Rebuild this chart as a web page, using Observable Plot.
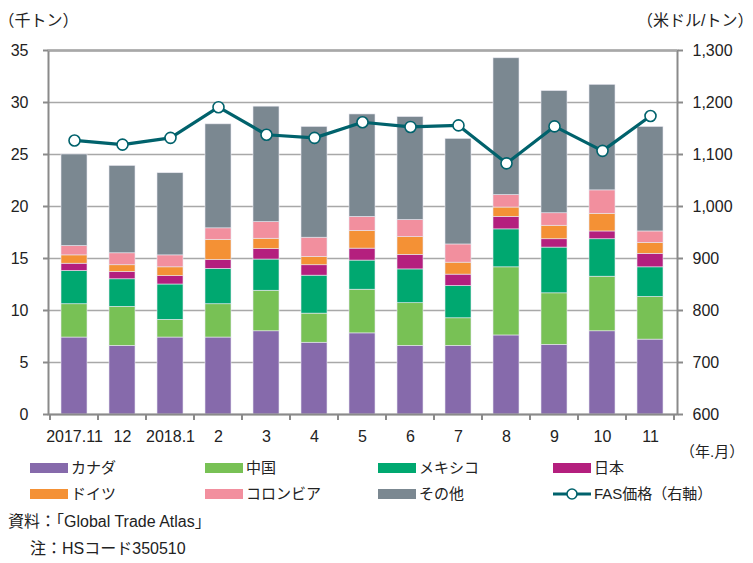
<!DOCTYPE html>
<html><head><meta charset="utf-8">
<script src="https://cdn.jsdelivr.net/npm/d3@7"></script>
<script src="https://cdn.jsdelivr.net/npm/@observablehq/plot@0.6"></script>
<style>
body{margin:0;background:#fff;font-family:"Liberation Sans","Noto Sans CJK JP",sans-serif;color:#222;}
#wrap{position:relative;width:753px;height:563px;}
.abs{position:absolute;white-space:nowrap;font-size:15px;line-height:18px;}
.sw{position:absolute;width:38px;height:10px;}
</style></head>
<body><div id="wrap"></div>
<script>
const months = ["2017.11","12","2018.1","2","3","4","5","6","7","8","9","10","11"];
const seriesNames = ["カナダ","中国","メキシコ","日本","ドイツ","コロンビア","その他"];
const colors = ["#866aab","#78c155","#00a870","#b41f7e","#f49135","#f28f9e","#7b8891"];
const canada   = [7.4,6.6,7.4,7.4,8.0,6.9,7.8,6.6,6.6,7.6,6.7,8.0,7.2];
const china    = [3.2,3.75,1.7,3.2,3.9,2.8,4.2,4.1,2.65,6.55,4.95,5.25,4.1];
const mexico   = [3.2,2.65,3.4,3.4,3.0,3.65,2.8,3.25,3.1,3.65,4.4,3.6,2.85];
const japan    = [0.7,0.7,0.8,0.85,1.0,1.0,1.15,1.4,1.1,1.2,0.8,0.75,1.3];
const germany  = [0.8,0.65,0.85,1.95,1.0,0.8,1.7,1.7,1.15,0.9,1.3,1.7,1.05];
const colombia = [0.9,1.15,1.15,1.1,1.6,1.85,1.35,1.65,1.75,1.2,1.2,2.25,1.1];
const others   = [8.8,8.4,7.9,10.0,11.1,10.65,9.85,9.9,10.15,13.15,11.75,10.15,10.05];
const fas      = [1127,1119,1132,1191,1138,1132,1162,1153,1156,1083,1154,1107,1174];
const leftTicks = [0,5,10,15,20,25,30,35];
const rightMin = 600, rightMax = 1300;

const seriesValues = [canada, china, mexico, japan, germany, colombia, others];
const barData = [];
months.forEach((m,i)=>seriesNames.forEach((s,j)=>barData.push({month:m, series:s, value:seriesValues[j][i]})));
const toLeft = v => (v - rightMin) / (rightMax - rightMin) * 35;
const lineData = months.map((m,i)=>({month:m, fas:fas[i]}));

const W=753, H=460, mL=48, mR=76, mT=50, mB=46;
const chart = Plot.plot({
  width:W, height:H, marginLeft:mL, marginRight:mR, marginTop:mT, marginBottom:mB,
  style:{fontSize:"16px", fontFamily:"'Liberation Sans','Noto Sans CJK JP',sans-serif", color:"#222", background:"transparent"},
  x:{domain:months, paddingInner:0.45, paddingOuter:0.225, axis:null, label:null},
  y:{domain:[0,35], axis:null, label:null},
  color:{domain:seriesNames, range:colors},
  marks:[
    Plot.ruleY(leftTicks, {stroke:"#a8a8a8", strokeWidth:1.3}),
    Plot.barY(barData, {x:"month", y:"value", fill:"series", stroke:"#e8e8f0", strokeWidth:0.6}),
    Plot.frame({stroke:"#8a8a8a", strokeWidth:2}),
    Plot.ruleY([35], {stroke:"#a8a8a8", strokeWidth:1.5}),
    Plot.axisY({anchor:"left", label:null, ticks:leftTicks, tickSize:5, tickPadding:15, stroke:"#8a8a8a", strokeWidth:2, tickFormat:d=>String(d)}),
    Plot.axisY({anchor:"right", label:null, ticks:leftTicks, tickSize:5, tickPadding:10, stroke:"#8a8a8a", strokeWidth:2, tickFormat:d=>d3.format(",")(rightMin + d*(rightMax-rightMin)/35)}),
    Plot.axisX({anchor:"bottom", label:null, tickSize:0, tickPadding:16}),
    Plot.line(lineData, {x:"month", y:d=>toLeft(d.fas), stroke:"#00626c", strokeWidth:3.2}),
    Plot.dot(lineData, {x:"month", y:d=>toLeft(d.fas), r:5.5, fill:"white", stroke:"#00626c", strokeWidth:1.6}),
    Plot.text(["（千トン）"], {frameAnchor:"top-left", dx:-50, dy:-36, textAnchor:"start", fontSize:16}),
    Plot.text(["（米ドル/トン）"], {frameAnchor:"top-right", dx:76, dy:-36, textAnchor:"end", fontSize:16})
  ]
});
const xs = chart.scale("x");
const gap = (xs.step - xs.bandwidth)/2;
const bounds = months.map(m=>xs.apply(m)-gap);
bounds.push(xs.apply(months[months.length-1]) + xs.bandwidth + gap);
const svg = d3.select(chart);
bounds.forEach(b=>svg.append("line").attr("x1",b).attr("x2",b).attr("y1",H-mB).attr("y2",H-mB+6).attr("stroke","#8a8a8a").attr("stroke-width",2));
const wrap = document.getElementById("wrap");
wrap.appendChild(chart);
chart.style.position="absolute"; chart.style.left="0"; chart.style.top="0";

function addText(txt,x,y,size){const d=document.createElement("div");d.className="abs";d.textContent=txt;d.style.left=x+"px";d.style.top=(y-9)+"px";if(size)d.style.fontSize=size+"px";wrap.appendChild(d);}
addText("（年.月）",680,452,15);
const legendX=[30,205,378,553], legendY=[468,494];
const legendItems = seriesNames.concat(["FAS価格（右軸）"]);
legendItems.forEach((name,i)=>{
  const col=i%4, row=Math.floor(i/4);
  const x=legendX[col], y=legendY[row];
  if(i<7){
    const s=document.createElement("div");s.className="sw";s.style.left=x+"px";s.style.top=(y-5)+"px";s.style.background=colors[i];wrap.appendChild(s);
  } else {
    const ns="http://www.w3.org/2000/svg";
    const sv=document.createElementNS(ns,"svg");sv.setAttribute("width",40);sv.setAttribute("height",14);
    sv.style.position="absolute";sv.style.left=x+"px";sv.style.top=(y-7)+"px";
    sv.innerHTML='<line x1="0" x2="38" y1="7" y2="7" stroke="#00626c" stroke-width="3.2"/><circle cx="19" cy="7" r="5" fill="white" stroke="#00626c" stroke-width="1.6"/>';
    wrap.appendChild(sv);
  }
  addText(name,x+41,y,15);
});
addText("資料：「Global Trade Atlas」",8,522,16);
addText("注：HSコード350510",30,549,16);
</script></body></html>
